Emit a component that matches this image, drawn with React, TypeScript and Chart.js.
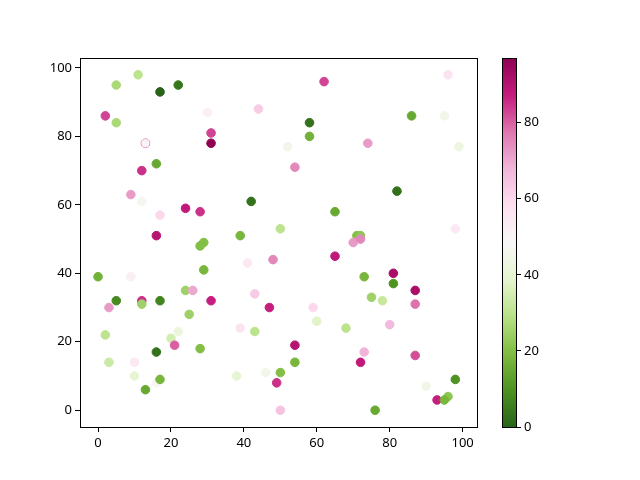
import React, { useEffect, useRef } from "react";
import { Chart, registerables } from "chart.js";
Chart.register(...registerables);

const xValues = [11, 5, 17, 22, 2, 5, 30, 44, 31, 31, 13, 13, 16, 12, 52, 9, 12, 17, 24, 28, 42, 16, 39, 50, 62, 96, 58, 58, 86, 95, 99, 74, 54, 82, 65, 98, 71, 72, 29, 28, 0, 9, 29, 41, 48, 5, 3, 12, 12, 17, 24, 26, 31, 43, 47, 25, 2, 22, 20, 21, 16, 28, 39, 43, 3, 10, 10, 16, 17, 13, 38, 46, 50, 49, 50, 70, 72, 65, 81, 81, 73, 87, 87, 75, 78, 59, 60, 68, 80, 54, 54, 73, 72, 87, 98, 90, 93, 96, 95, 76];
const yValues = [98, 95, 93, 95, 86, 84, 87, 88, 81, 78, 78, 78, 72, 70, 77, 63, 61, 57, 59, 58, 61, 51, 51, 53, 96, 98, 84, 80, 86, 86, 77, 78, 71, 64, 58, 53, 51, 51, 49, 48, 39, 39, 41, 43, 44, 32, 30, 32, 31, 32, 35, 35, 32, 34, 30, 28, 22, 23, 21, 19, 17, 18, 24, 23, 14, 14, 10, 8, 9, 6, 10, 11, 11, 8, 0, 49, 50, 45, 40, 37, 39, 35, 31, 33, 32, 30, 26, 24, 25, 19, 14, 17, 14, 16, 9, 7, 3, 4, 3, 0];
const colorValues = [30, 27, 0, 4, 83, 27, 52, 63, 83, 97, 80, 50, 15, 85, 45, 72, 47, 60, 88, 85, 3, 90, 18, 30, 83, 57, 3, 17, 15, 45, 43, 72, 75, 3, 15, 55, 20, 22, 20, 20, 17, 52, 18, 55, 75, 8, 72, 85, 25, 7, 25, 70, 87, 63, 87, 25, 30, 42, 35, 80, 3, 20, 57, 30, 33, 55, 40, 48, 18, 15, 40, 45, 20, 85, 65, 72, 75, 88, 92, 10, 18, 92, 78, 25, 32, 60, 38, 30, 67, 90, 18, 68, 88, 82, 10, 45, 87, 22, 18, 15];
const axisTicks = [0, 20, 40, 60, 80, 100];
const colorbarTicks = [0, 20, 40, 60, 80];
const colorMin = 0;
const colorMax = 97;
const piygStops = ["#8e0152", "#c51b7d", "#de77ae", "#f1b6da", "#fde0ef", "#f7f7f7", "#e6f5d0", "#b8e186", "#7fbc41", "#4d9221", "#276419"];

const FONT = "'Noto Sans', 'DejaVu Sans', sans-serif";

function hexToRgb(h: string) {
  return [parseInt(h.slice(1, 3), 16), parseInt(h.slice(3, 5), 16), parseInt(h.slice(5, 7), 16)];
}

function colorFor(v: number) {
  let t = (v - colorMin) / (colorMax - colorMin);
  t = Math.max(0, Math.min(1, t));
  const p = (1 - t) * (piygStops.length - 1);
  const i = Math.min(Math.floor(p), piygStops.length - 2);
  const f = p - i;
  const a = hexToRgb(piygStops[i]);
  const b = hexToRgb(piygStops[i + 1]);
  const c = a.map((av, k) => Math.round(av + (b[k] - av) * f));
  return `rgb(${c[0]},${c[1]},${c[2]})`;
}

const boxPlugin = {
  id: "boxPlugin",
  afterDraw(chart: any) {
    const { ctx, chartArea } = chart;
    ctx.save();
    ctx.strokeStyle = "#000";
    ctx.lineWidth = 1;
    ctx.strokeRect(
      Math.round(chartArea.left) + 0.5,
      Math.round(chartArea.top) + 0.5,
      Math.round(chartArea.right - chartArea.left),
      Math.round(chartArea.bottom - chartArea.top)
    );
    ctx.restore();
  },
};

const gradientPlugin = {
  id: "gradientPlugin",
  beforeDatasetsDraw(chart: any) {
    const { ctx, chartArea } = chart;
    const g = ctx.createLinearGradient(0, chartArea.bottom, 0, chartArea.top);
    const n = piygStops.length;
    for (let i = 0; i < n; i++) {
      g.addColorStop(i / (n - 1), piygStops[n - 1 - i]);
    }
    ctx.save();
    ctx.fillStyle = g;
    ctx.fillRect(chartArea.left, chartArea.top, chartArea.right - chartArea.left, chartArea.bottom - chartArea.top);
    ctx.restore();
  },
};

export default function App() {
  const mainRef = useRef<HTMLCanvasElement>(null);
  const barRef = useRef<HTMLCanvasElement>(null);

  useEffect(() => {
    const points = xValues.map((x, i) => ({ x, y: yValues[i] }));
    const colors = colorValues.map(colorFor);
    const borderWidths = colorValues.map((_, i) => (i === 11 ? 0 : 1));
    const radii = colorValues.map((_, i) => (i === 11 ? 4.2 : 4.3));
    const tickFont = { family: FONT, size: 13 };

    const main = new Chart(mainRef.current!, {
      type: "scatter",
      data: {
        datasets: [
          {
            data: points,
            backgroundColor: colors,
            borderColor: colors,
            borderWidth: borderWidths,
            pointRadius: radii,
            pointHoverRadius: radii,
          },
        ],
      },
      options: {
        animation: false,
        responsive: false,
        events: [],
        layout: { padding: { left: 0, top: 58, right: 163, bottom: 0 } },
        plugins: { legend: { display: false }, tooltip: { enabled: false } },
        scales: {
          x: {
            type: "linear",
            min: -4.95,
            max: 103.95,
            border: { display: false },
            grid: { drawOnChartArea: false, drawTicks: true, tickLength: 5, color: "#000", tickWidth: 1 },
            ticks: { color: "#000", font: tickFont, padding: 3, maxRotation: 0 },
            afterBuildTicks: (s: any) => { s.ticks = axisTicks.map((v) => ({ value: v })); },
            afterFit: (s: any) => { s.height = 53; },
          },
          y: {
            type: "linear",
            min: -4.9,
            max: 102.9,
            border: { display: false },
            grid: { drawOnChartArea: false, drawTicks: true, tickLength: 5, color: "#000", tickWidth: 1 },
            ticks: { color: "#000", font: tickFont, padding: 3 },
            afterBuildTicks: (s: any) => { s.ticks = axisTicks.map((v) => ({ value: v })); },
            afterFit: (s: any) => { s.width = 80; },
          },
        },
      },
      plugins: [boxPlugin],
    });

    const bar = new Chart(barRef.current!, {
      type: "scatter",
      data: { datasets: [{ data: [] }] },
      options: {
        animation: false,
        responsive: false,
        events: [],
        layout: { padding: { left: 502, top: 58, right: 84, bottom: 53 } },
        plugins: { legend: { display: false }, tooltip: { enabled: false } },
        scales: {
          x: { display: false, min: 0, max: 1 },
          y: {
            type: "linear",
            position: "right",
            min: colorMin,
            max: colorMax,
            border: { display: false },
            grid: { drawOnChartArea: false, drawTicks: true, tickLength: 5, color: "#000", tickWidth: 1 },
            ticks: { color: "#000", font: tickFont, padding: 3 },
            afterBuildTicks: (s: any) => { s.ticks = colorbarTicks.map((v) => ({ value: v })); },
            afterFit: (s: any) => { s.width = 40; },
          },
        },
      },
      plugins: [gradientPlugin, boxPlugin],
    });

    return () => {
      main.destroy();
      bar.destroy();
    };
  }, []);

  return (
    <div style={{ position: "fixed", left: 0, top: 0, width: 640, height: 480, background: "#fff" }}>
      <canvas ref={mainRef} width={640} height={480} style={{ position: "absolute", left: 0, top: 0 }} />
      <canvas ref={barRef} width={640} height={480} style={{ position: "absolute", left: 0, top: 0 }} />
    </div>
  );
}
